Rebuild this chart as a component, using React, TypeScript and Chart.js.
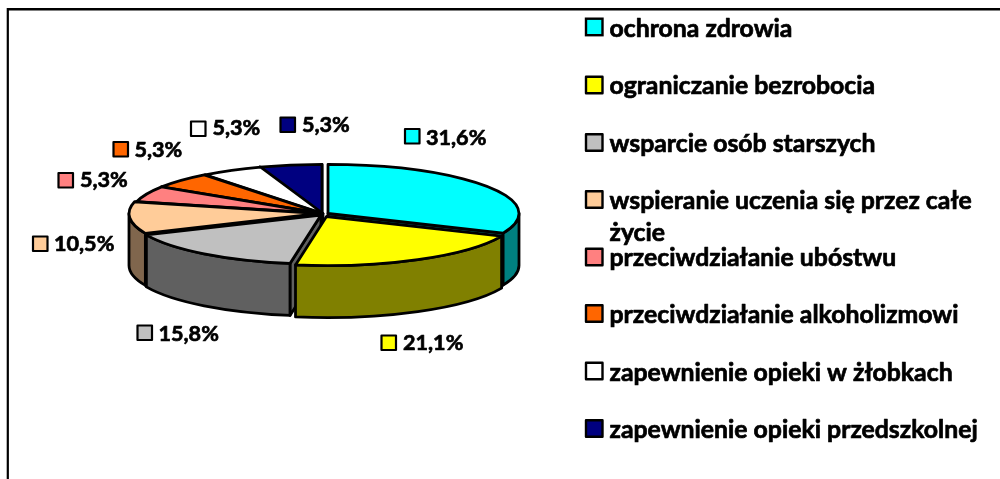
import React, { useEffect, useRef } from "react";
import { Chart, registerables } from "chart.js";

Chart.register(...registerables);

const categories = [
  "ochrona zdrowia",
  "ograniczanie bezrobocia",
  "wsparcie osób starszych",
  "wspieranie uczenia się przez całe życie",
  "przeciwdziałanie ubóstwu",
  "przeciwdziałanie alkoholizmowi",
  "zapewnienie opieki w żłobkach",
  "zapewnienie opieki przedszkolnej",
];
const shares = [31.6, 21.1, 15.8, 10.5, 5.3, 5.3, 5.3, 5.3];

const topColors = ["#00FFFF", "#FFFF00", "#C0C0C0", "#FFCC99", "#FF8080", "#FF6600", "#FFFFFF", "#000080"];
const wallColors = ["#008080", "#808000", "#606060", "#80664D", "#804040", "#803300", "#808080", "#000040"];

// slice explosion (screen px) and back-to-front paint order
const explodeX = [5, 3.5, -2, -3, -1, -1, 0, -1];
const explodeY = [0, 3, 1.5, 0, 0, 0, 0, 0];
const paintOrder = [7, 6, 5, 4, 3, 0, 2, 1];
const SQUASH = 0.257;
const DEPTH = 52;
const LEGEND_FONT = '700 24.8px Lato, "Open Sans", sans-serif';
const LABEL_FONT = '700 21.6px Lato, "Open Sans", sans-serif';

const legendBoxTop = [17.5, 75.5, 133, 190, 247.5, 304, 361.5, 419];
const legendLines = [
  [[37, 0]],
  [[94, 0]],
  [[152, 0]],
  [[209, 0], [241, 1]],
  [[266, 0]],
  [[323, 0]],
  [[381, 0]],
  [[438, 0]],
];
const legendText = [
  ["ochrona zdrowia"],
  ["ograniczanie bezrobocia"],
  ["wsparcie osób starszych"],
  ["wspieranie uczenia się przez całe", "życie"],
  ["przeciwdziałanie ubóstwu"],
  ["przeciwdziałanie alkoholizmowi"],
  ["zapewnienie opieki w żłobkach"],
  ["zapewnienie opieki przedszkolnej"],
];

// data label anchors: box left, box top, text left, baseline
const labelBoxX = [404, 380.5, 136.5, 32, 57.5, 112.5, 190, 279.5];
const labelBoxY = [128, 334.5, 324.5, 235.5, 172, 141, 120.5, 116.5];
const labelTextX = [426, 403, 158.5, 54, 80, 134.5, 212.5, 302];
const labelBase = [144.5, 350, 341, 251, 187, 157, 135, 131.5];

const piePlugin = {
  id: "pie3d",
  beforeDatasetsDraw(chart: any) {
    const { ctx } = chart;
    const arcs = chart.getDatasetMeta(0).data;
    ctx.save();
    ctx.lineWidth = 2.8;
    ctx.strokeStyle = "#000";
    ctx.lineJoin = "round";
    for (const i of paintOrder) {
      const a = arcs[i];
      const s = a.startAngle;
      const e = a.endAngle;
      const rx = a.outerRadius;
      const ry = rx * SQUASH;
      const cx = a.x + explodeX[i];
      const cy = a.y + explodeY[i];
      const pt = (t: number): [number, number] => [cx + rx * Math.cos(t), cy + ry * Math.sin(t)];
      ctx.fillStyle = wallColors[i];
      const face = (t: number) => {
        const [px, py] = pt(t);
        ctx.beginPath();
        ctx.moveTo(cx, cy);
        ctx.lineTo(px, py);
        ctx.lineTo(px, py + DEPTH);
        ctx.lineTo(cx, cy + DEPTH);
        ctx.closePath();
        ctx.fill();
        ctx.stroke();
      };
      if (Math.cos(s) < 0) face(s);
      if (Math.cos(e) > 0) face(e);
      const w0 = Math.max(s, 0);
      const w1 = Math.min(e, Math.PI);
      if (w1 > w0) {
        ctx.beginPath();
        ctx.ellipse(cx, cy, rx, ry, 0, w0, w1);
        ctx.ellipse(cx, cy + DEPTH, rx, ry, 0, w1, w0, true);
        ctx.closePath();
        ctx.fill();
        ctx.stroke();
      }
      ctx.fillStyle = topColors[i];
      ctx.beginPath();
      ctx.moveTo(cx, cy);
      ctx.ellipse(cx, cy, rx, ry, 0, s, e);
      ctx.closePath();
      ctx.fill();
      ctx.stroke();
    }
    ctx.restore();
    return false;
  },
  afterDraw(chart: any) {
    const { ctx } = chart;
    const values = chart.data.datasets[0].data;
    const boldText = (t: string, x: number, y: number) => {
      ctx.fillStyle = "#000";
      ctx.strokeStyle = "#000";
      ctx.lineWidth = 0.7;
      ctx.lineJoin = "round";
      ctx.fillText(t, x, y);
      ctx.strokeText(t, x, y);
    };
    ctx.save();
    // frame
    ctx.fillStyle = "#000";
    ctx.fillRect(7, 8, 993, 2.5);
    ctx.fillRect(6.7, 8, 2.2, 471);
    ctx.textBaseline = "alphabetic";
    ctx.textAlign = "left";
    ctx.strokeStyle = "#000";
    // legend
    ctx.font = LEGEND_FONT;
    categories.forEach((_, i) => {
      ctx.lineWidth = 2.4;
      ctx.strokeStyle = "#000";
      ctx.fillStyle = topColors[i];
      ctx.fillRect(586, legendBoxTop[i] + 1.2, 16.5, 16.5);
      ctx.strokeRect(586, legendBoxTop[i] + 1.2, 16.5, 16.5);
      legendLines[i].forEach(([y, n]) => boldText(legendText[i][n], 609.5, y));
    });
    // data labels
    ctx.font = LABEL_FONT;
    values.forEach((v: number, i: number) => {
      ctx.lineWidth = 2.2;
      ctx.strokeStyle = "#000";
      ctx.fillStyle = topColors[i];
      ctx.fillRect(labelBoxX[i] + 1, labelBoxY[i] + 1, 14.5, 14.5);
      ctx.strokeRect(labelBoxX[i] + 1, labelBoxY[i] + 1, 14.5, 14.5);
      boldText(v.toFixed(1).replace(".", ",") + "%", labelTextX[i], labelBase[i]);
    });
    ctx.restore();
  },
};

export default function App() {
  const ref = useRef<HTMLCanvasElement>(null);
  useEffect(() => {
    const chart = new Chart(ref.current as HTMLCanvasElement, {
      type: "pie",
      data: {
        labels: categories,
        datasets: [{ data: shares, backgroundColor: topColors, borderWidth: 0, hoverOffset: 0 }],
      },
      options: {
        responsive: false,
        animation: false,
        layout: { padding: { left: 132, right: 486, top: 22.5, bottom: 74.5 } },
        plugins: { legend: { display: false }, tooltip: { enabled: false } },
      },
      plugins: [piePlugin],
    } as any);
    return () => chart.destroy();
  }, []);
  return (
    <div style={{ position: "fixed", left: 0, top: 0, width: 1000, height: 479, background: "#fff" }}>
      <canvas ref={ref} width={1000} height={479} style={{ display: "block" }} />
    </div>
  );
}
